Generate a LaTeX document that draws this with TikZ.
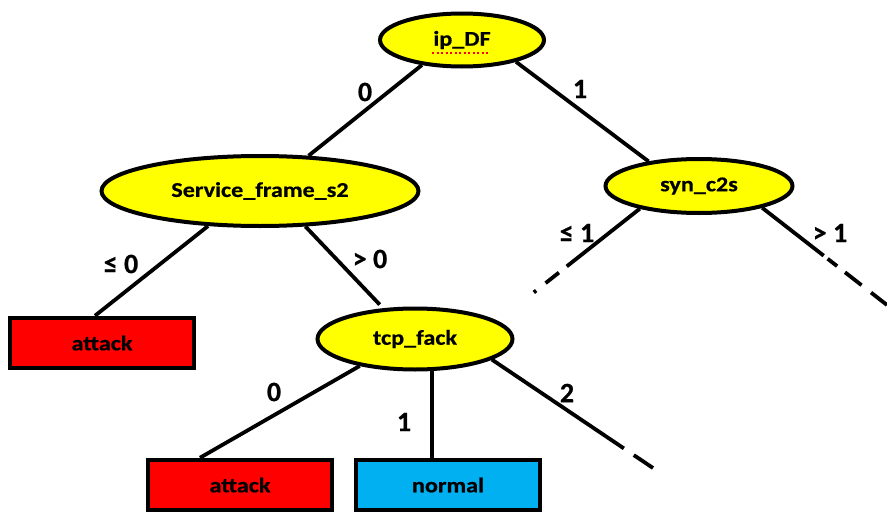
\documentclass[tikz,border=0pt]{standalone}
\usepackage{fontspec}
\setmainfont{Carlito}[FakeStretch=1.15,BoldFeatures={FakeBold=0.6}]
\newfontfamily\labfont{Carlito}[BoldFeatures={FakeBold=0.6}]
\usetikzlibrary{shapes.geometric}
\definecolor{yel}{RGB}{255,255,0}
\definecolor{redbox}{RGB}{255,0,0}
\definecolor{bluebox}{RGB}{0,176,240}
\begin{document}
\begin{tikzpicture}[x=1pt,y=-1pt,
  font=\fontsize{21}{25}\selectfont\bfseries,
  ell/.style={ellipse, draw, line width=4pt, fill=yel, inner sep=0pt},
  leaf/.style={rectangle, draw, line width=4.5pt, inner sep=0pt, minimum width=184pt, minimum height=50pt},
  edge/.style={line width=3.8pt},
  lab/.style={inner sep=0pt, font=\labfont\fontsize{28}{32}\selectfont\bfseries}]
\useasboundingbox (0,0) rectangle (887,514);

% nodes
\node[ell, minimum width=164pt, minimum height=53pt] (ip) at (462,40) {ip\_DF};
\node[ell, minimum width=317pt, minimum height=70pt] (sf) at (260,191) {Service\_frame\_s2};
\node[ell, minimum width=187pt, minimum height=54pt] (syn) at (699,186) {syn\_c2s};
\node[ell, minimum width=195pt, minimum height=61pt] (tcp) at (415,339) {tcp\_fack};
\node[leaf, fill=redbox] (a1) at (102,343) {attack};
\node[leaf, fill=redbox] (a2) at (240,485) {attack};
\node[leaf, fill=bluebox] (nm) at (448,485) {normal};

% spell-check mark under ip_DF
\coordinate (sq1) at (432,53);
\coordinate (sq2) at (490,53);
\draw[red, line width=1.6pt, dash pattern=on 2pt off 2.5pt] (sq1) -- (sq2);

% free ends of the dashed branches
\coordinate (e1) at (528,297);
\coordinate (e2) at (887,305);
\coordinate (e3) at (653,468);

% connectors
\draw[edge] (ip.212) -- (sf.36);
\draw[edge] (ip.-22) -- (syn.154);
\draw[edge] (sf.214) -- ([xshift=-7pt]a1.north);
\draw[edge, shorten >=5pt] (sf.-38) -- (tcp.136);
\draw[edge, dash pattern=on 93pt off 10pt on 17pt off 12pt on 3pt off 200pt] (syn.201) -- (e1);
\draw[edge, dash pattern=on 78pt off 5pt on 12pt off 10pt on 21pt off 12pt on 30pt] (syn.-19) -- (e2);
\draw[edge] (tcp.206) -- ([xshift=-40pt]a2.north);
\draw[edge] (tcp.-62) -- (tcp.-62 |- nm.north);
\draw[edge, dash pattern=on 159pt off 12pt on 30pt] (tcp.-15) -- (e3);

% edge labels
\node[lab] (l1) at (365,92) {0};
\node[lab] (l2) at (580,89) {1};
\node[lab] (l3) at (121,264) {≤ 0};
\node[lab] (l4) at (370,259) {> 0};
\node[lab] (l5) at (577,233) {≤ 1};
\node[lab] (l6) at (830,233) {> 1};
\node[lab] (l7) at (274,392) {0};
\node[lab] (l8) at (404,422) {1};
\node[lab] (l9) at (567,393) {2};
\end{tikzpicture}
\end{document}
